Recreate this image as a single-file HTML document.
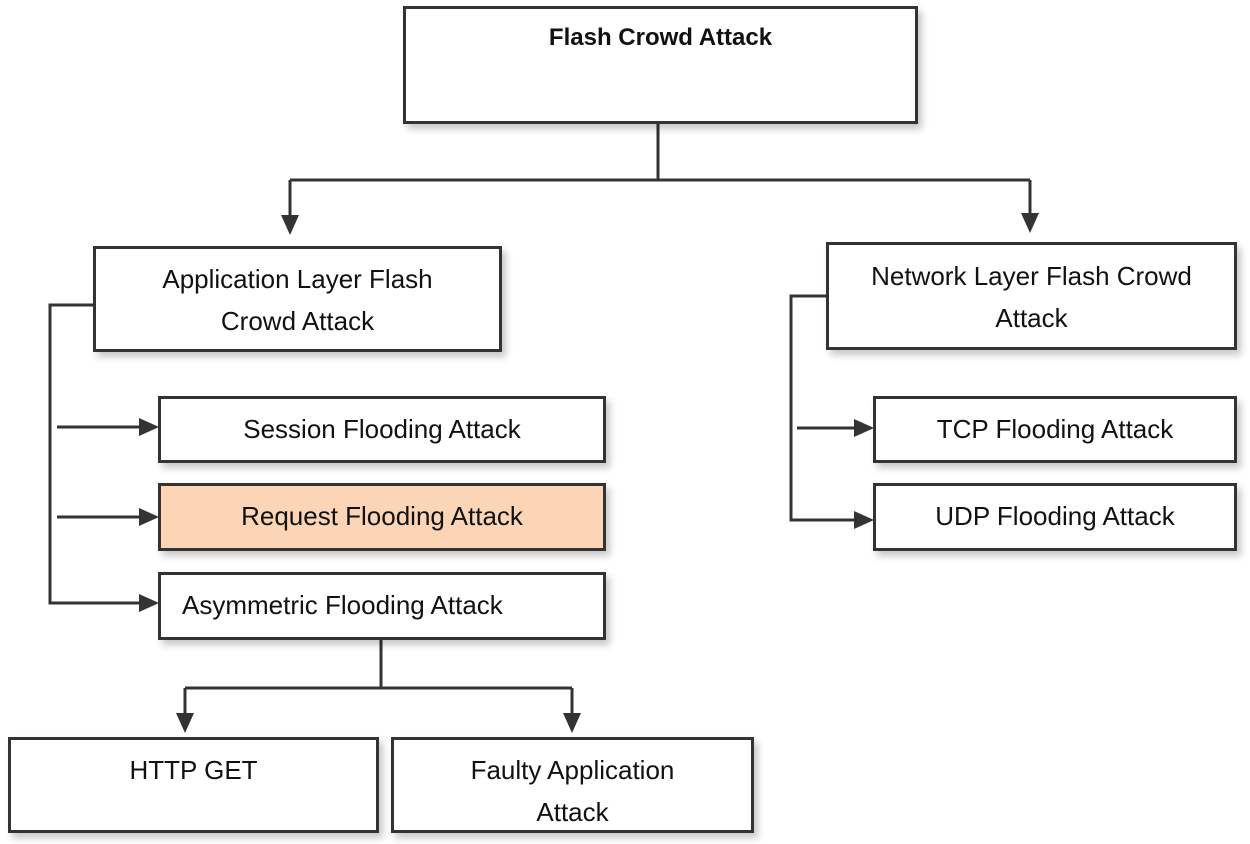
<!DOCTYPE html>
<html><head><meta charset="utf-8"><style>
body{margin:0;width:1250px;height:844px;background:#fff;position:relative;overflow:hidden;font-family:"Liberation Sans",sans-serif;color:#111}
.b{position:absolute;box-sizing:border-box;border:3px solid #333;background:#fff;box-shadow:4px 5px 7px rgba(0,0,0,0.22)}
.t{position:absolute;font-size:26px;white-space:nowrap;letter-spacing:0px;line-height:42px;text-align:center}
svg{position:absolute;left:0;top:0}
</style></head><body>
<svg width="1250" height="844">
<defs><marker id="d" markerWidth="20" markerHeight="18" refX="17" refY="9" orient="auto" markerUnits="userSpaceOnUse"><path d="M0,0 L20,9 L0,18z" fill="#333"/></marker></defs>
<g stroke="#333" stroke-width="3" fill="none">
<path d="M658 124 V180"/>
<path d="M290 180 H1030"/>
<path d="M290 180 V232" marker-end="url(#d)"/>
<path d="M1030 180 V230" marker-end="url(#d)"/>
<path d="M93 305 H50 V603 H156" marker-end="url(#d)"/>
<path d="M57 427 H156" marker-end="url(#d)"/>
<path d="M57 517 H156" marker-end="url(#d)"/>
<path d="M826 296 H791 V520 H871" marker-end="url(#d)"/>
<path d="M797 428 H871" marker-end="url(#d)"/>
<path d="M381 640 V688"/>
<path d="M185 688 H572"/>
<path d="M185 688 V730" marker-end="url(#d)"/>
<path d="M572 688 V730" marker-end="url(#d)"/>
</g></svg>
<div class="b" style="left:403px;top:6px;width:515px;height:118px"></div>
<div class="t" style="left:403px;top:17px;width:515px;font-weight:bold;font-size:24px">Flash Crowd Attack</div>
<div class="b" style="left:93px;top:246px;width:409px;height:106px"></div>
<div class="t" style="left:93px;top:258px;width:409px">Application Layer Flash<br>Crowd Attack</div>
<div class="b" style="left:826px;top:242px;width:411px;height:108px"></div>
<div class="t" style="left:826px;top:255px;width:411px">Network Layer Flash Crowd<br>Attack</div>
<div class="b" style="left:158px;top:396px;width:448px;height:67px"></div>
<div class="t" style="left:158px;top:408px;width:448px">Session Flooding Attack</div>
<div class="b" style="left:158px;top:483px;width:448px;height:68px;background:#fbd5b5"></div>
<div class="t" style="left:158px;top:495px;width:448px">Request Flooding Attack</div>
<div class="b" style="left:158px;top:572px;width:448px;height:68px"></div>
<div class="t" style="left:182px;top:584px;text-align:left">Asymmetric Flooding Attack</div>
<div class="b" style="left:873px;top:396px;width:364px;height:67px"></div>
<div class="t" style="left:873px;top:408px;width:364px">TCP Flooding Attack</div>
<div class="b" style="left:873px;top:483px;width:364px;height:68px"></div>
<div class="t" style="left:873px;top:495px;width:364px">UDP Flooding Attack</div>
<div class="b" style="left:8px;top:737px;width:371px;height:96px"></div>
<div class="t" style="left:8px;top:749px;width:371px">HTTP GET</div>
<div class="b" style="left:391px;top:737px;width:363px;height:96px"></div>
<div class="t" style="left:391px;top:749px;width:363px">Faulty Application<br>Attack</div>
</body></html>
